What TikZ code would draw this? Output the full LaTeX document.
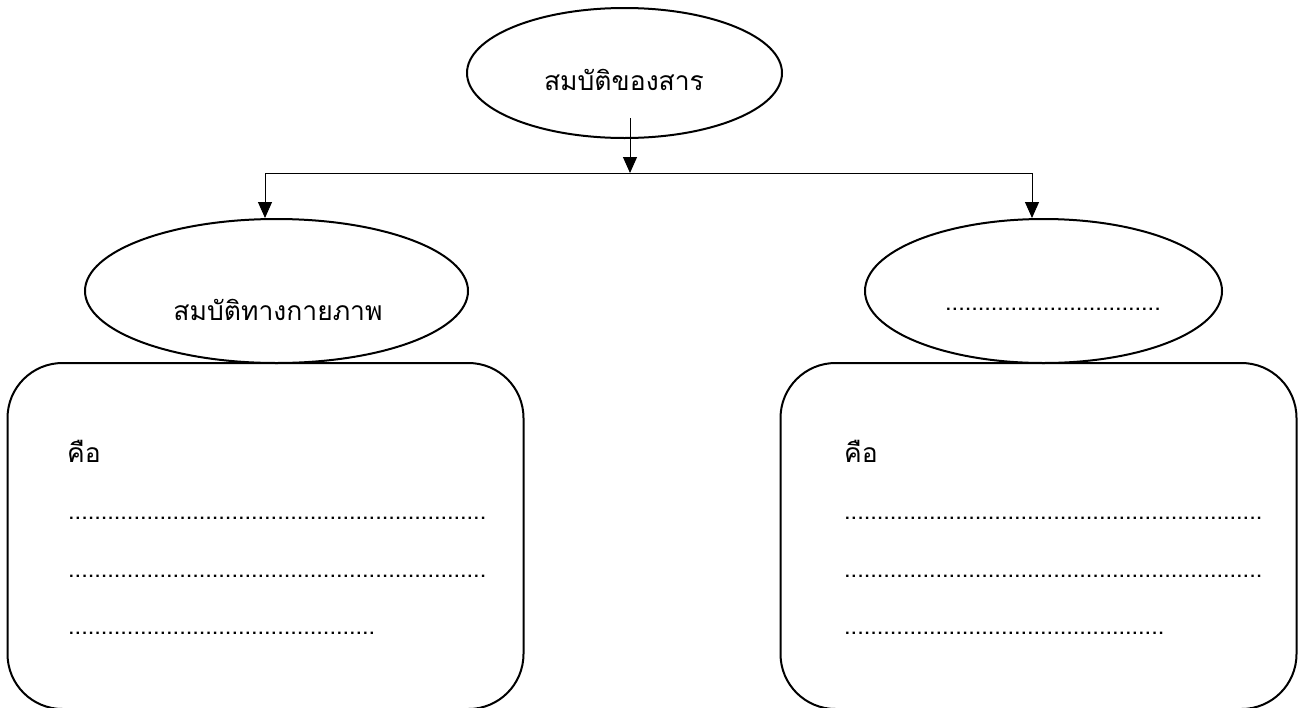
\documentclass[tikz,border=0pt]{standalone}
\usepackage{fontspec}
\newfontfamily\thaifont[Script=Thai]{Loma}
\usetikzlibrary{shapes,arrows.meta,positioning}

\begin{document}
\begin{tikzpicture}[
    x=1pt, y=-1pt,
    oval/.style={ellipse, draw, line width=2pt, inner sep=0pt},
    card/.style={rectangle, draw, line width=2pt, rounded corners=55pt, inner sep=0pt, minimum width=516pt, minimum height=346pt},
    txt/.style={inner sep=0pt, font=\thaifont\fontsize{26.5}{32}\selectfont},
    dots/.style={inner sep=0pt, anchor=base west, font=\thaifont\fontsize{23.5}{28}\selectfont},
    arrow/.style={-{Triangle[width=14pt,length=16pt]}, line width=1pt}
]
\useasboundingbox (0,0) rectangle (1305,707);

% boxes
\node[card] (physbox) at (265.5,536) {};
\node[card] (chembox) at (1038.5,536) {};

% ovals
\node[oval, minimum width=315pt, minimum height=130pt] (prop) at (624.5,73) {};
\node[oval, minimum width=383pt, minimum height=144pt] (phys) at (276.5,291) {};
\node[oval, minimum width=357pt, minimum height=144pt] (chem) at (1043.5,291) {};

\node[txt] (prop-t) at (624,80) {สมบัติของสาร};
\node[txt] (phys-t) at (278,310) {สมบัติทางกายภาพ};
\node[dots] (chem-t) at (945,310) {.................................};

% left box text
\node[txt, anchor=base west] (phys-is) at (67,462) {คือ};
\node[dots] (phys-l1) at (68,519) {................................................................};
\node[dots] (phys-l2) at (68,577) {................................................................};
\node[dots] (phys-l3) at (68,634) {...............................................};

% right box text
\node[txt, anchor=base west] (chem-is) at (844,462) {คือ};
\node[dots] (chem-l1) at (844,519) {................................................................};
\node[dots] (chem-l2) at (844,577) {................................................................};
\node[dots] (chem-l3) at (844,634) {.................................................};

% connectors
\coordinate (stem) at (630,118);
\coordinate (split) at (630,173);
\draw[arrow] (stem) -- (split);
\draw[arrow] (split) -| ([xshift=-11.5pt]phys.north);
\draw[arrow] (split) -| ([xshift=-11.5pt]chem.north);
\end{tikzpicture}
\end{document}
